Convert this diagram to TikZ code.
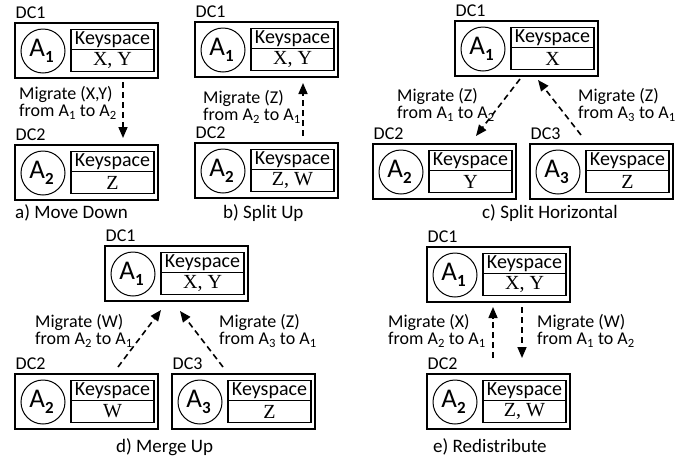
\documentclass[tikz,border=0pt]{standalone}
\usepackage{fontspec}
\setmainfont{Carlito}
\newfontfamily\valfont{Liberation Serif}
\usetikzlibrary{arrows.meta}
\newcommand\agsub[1]{\raisebox{-6.5pt}{\fontsize{17}{17}\selectfont\bfseries #1}}
\tikzset{
  dcbox/.style={draw, line width=1.3pt, minimum width=143pt, minimum height=55pt, inner sep=0pt},
  agent/.style={draw, circle, line width=1pt, minimum size=44pt, inner sep=0pt, font=\fontsize{27}{27}\selectfont},
  kshead/.style={draw, line width=1.1pt, minimum width=83pt, minimum height=20pt, inner sep=0pt, font=\fontsize{20}{20}\selectfont},
  ksval/.style={draw, line width=1.1pt, minimum width=83pt, minimum height=22pt, inner sep=0pt, font=\valfont\fontsize{20}{20}\selectfont},
  dclabel/.style={anchor=base west, inner sep=0pt, font=\fontsize{18}{18}\selectfont},
  miglabel/.style={anchor=north west, inner sep=0pt, align=left, font=\fontsize{18}{17.5}\selectfont},
  caption/.style={anchor=base west, inner sep=0pt, font=\fontsize{19}{19}\selectfont},
  migr/.style={draw, line width=1.6pt, dash pattern=on 6pt off 4pt, -{Triangle[length=11pt,width=9pt]}},
  pics/dc/.style n args={3}{code={
    \node[dcbox] (-box) at (71.5,27.5) {};
    \node[agent] (-agent) at (28,28) {\hspace*{-3pt}A\agsub{#1}};
    \node[kshead] (-head) at (97.5,16.5) {Keyspace};
    \node[ksval] (-val) at (97.5,37.5) {#2};
    \node[dclabel] (-label) at (0.5,-5) {DC#3};
  }}
}
\begin{document}
\begin{tikzpicture}[x=1pt,y=-1pt]
\useasboundingbox (0,0) rectangle (692,464);
% a) Move Down
\pic (a1) at (15,23) {dc={1}{X, Y}{1}};
\pic (a2) at (15,145) {dc={2}{Z}{2}};
\coordinate (as) at (123,82);
\coordinate (ae) at (123,138);
\draw[migr] (as) -- (ae);
\node[miglabel] (al) at (19,86) {Migrate (X,Y)\\from A\textsubscript{1} to A\textsubscript{2}};
\node[caption] (ac) at (15,218) {a) Move Down};
% b) Split Up
\pic (b1) at (195,22) {dc={1}{X, Y}{1}};
\pic (b2) at (195,143) {dc={2}{Z, W}{2}};
\coordinate (bs) at (303,136);
\coordinate (be) at (303,83);
\draw[migr] (bs) -- (be);
\node[miglabel] (bl) at (203,90) {Migrate (Z)\\from A\textsubscript{2} to A\textsubscript{1}};
\node[caption] (bc) at (223,218) {b) Split Up};
% c) Split Horizontal
\pic (c1) at (455,21) {dc={1}{X}{1}};
\pic (c2) at (373,144) {dc={2}{Y}{2}};
\pic (c3) at (530,144) {dc={3}{Z}{3}};
\coordinate (cls) at (520,79);
\coordinate (cle) at (476,136);
\coordinate (crs) at (581,135);
\coordinate (cre) at (538,80);
\draw[migr] (cls) -- (cle);
\draw[migr] (crs) -- (cre);
\node[miglabel] (cll) at (397,88) {Migrate (Z)\\from A\textsubscript{1} to A\textsubscript{2}};
\node[miglabel] (crl) at (578,88) {Migrate (Z)\\from A\textsubscript{3} to A\textsubscript{1}};
\node[caption] (cc) at (482,218) {c) Split Horizontal};
% d) Merge Up
\pic (d1) at (105,246) {dc={1}{X, Y}{1}};
\pic (d2) at (15,374) {dc={2}{W}{2}};
\pic (d3) at (172,374) {dc={3}{Z}{3}};
\coordinate (dls) at (118,367);
\coordinate (dle) at (161,310);
\coordinate (drs) at (223,367);
\coordinate (dre) at (180,311);
\draw[migr] (dls) -- (dle);
\draw[migr] (drs) -- (dre);
\node[miglabel] (dll) at (35,314) {Migrate (W)\\from A\textsubscript{2} to A\textsubscript{1}};
\node[miglabel] (drl) at (219,314) {Migrate (Z)\\from A\textsubscript{3} to A\textsubscript{1}};
\node[caption] (dc) at (116,452) {d) Merge Up};
% e) Redistribute
\pic (e1) at (427,247) {dc={1}{X, Y}{1}};
\pic (e2) at (427,374) {dc={2}{Z, W}{2}};
\coordinate (eus) at (493,358);
\coordinate (eue) at (493,307);
\coordinate (eds) at (522,307);
\coordinate (ede) at (522,358);
\draw[migr] (eus) -- (eue);
\draw[migr] (eds) -- (ede);
\node[miglabel] (eul) at (388,314) {Migrate (X)\\from A\textsubscript{2} to A\textsubscript{1}};
\node[miglabel] (edl) at (537,314) {Migrate (W)\\from A\textsubscript{1} to A\textsubscript{2}};
\node[caption] (ec) at (433,452) {e) Redistribute};
\end{tikzpicture}
\end{document}
